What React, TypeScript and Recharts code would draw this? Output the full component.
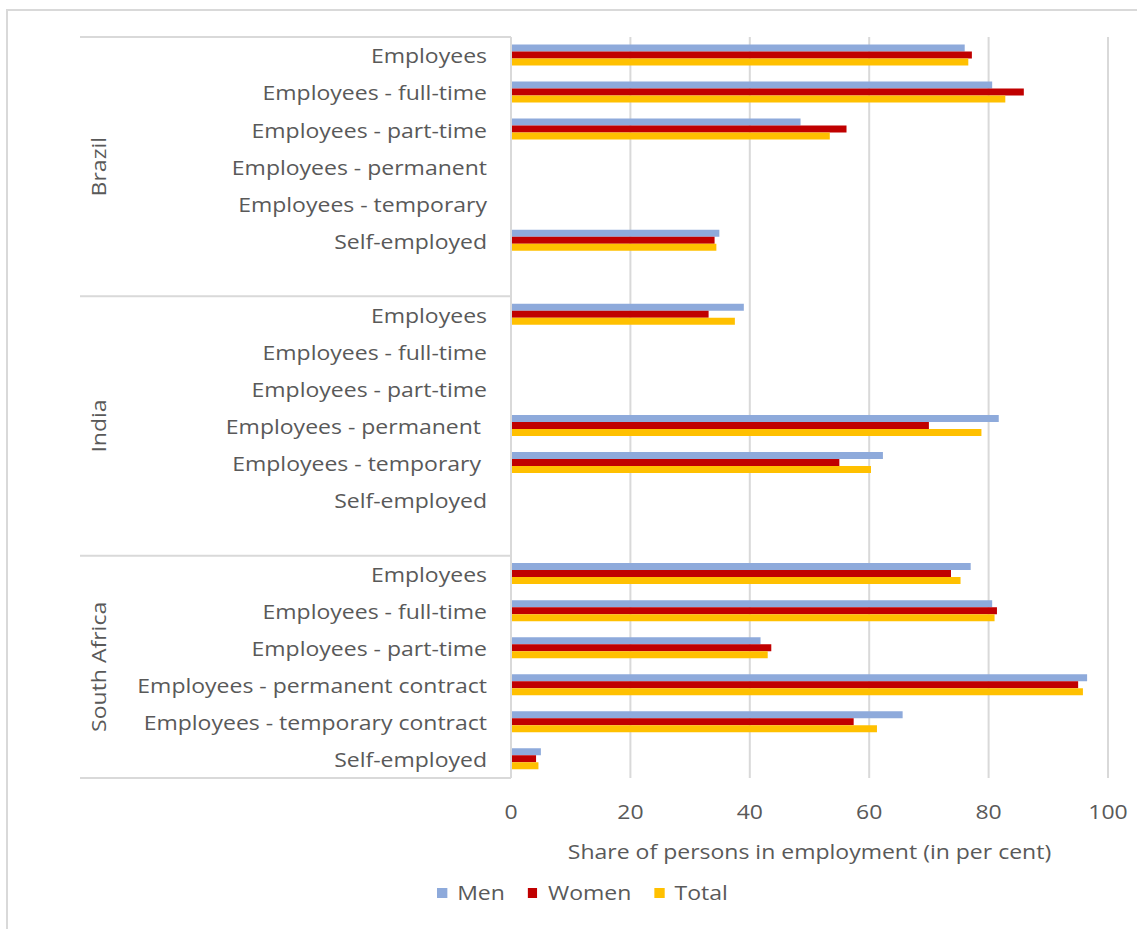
import React from 'react';
import { BarChart, Bar, XAxis, YAxis, CartesianGrid, Label } from 'recharts';

const countries = ['Brazil', 'India', 'South Africa'];

const brazilCats = ['Employees', 'Employees - full-time', 'Employees - part-time', 'Employees - permanent', 'Employees - temporary', 'Self-employed', ''];
const indiaCats = ['Employees', 'Employees - full-time', 'Employees - part-time', 'Employees - permanent ', 'Employees - temporary ', 'Self-employed', ''];
const southAfricaCats = ['Employees', 'Employees - full-time', 'Employees - part-time', 'Employees - permanent contract', 'Employees - temporary contract', 'Self-employed'];

const brazilMen = [76.0, 80.6, 48.5, null, null, 34.9, null];
const brazilWomen = [77.2, 85.9, 56.2, null, null, 34.1, null];
const brazilTotal = [76.6, 82.8, 53.4, null, null, 34.4, null];

const indiaMen = [39.0, null, null, 81.7, 62.3, null, null];
const indiaWomen = [33.1, null, null, 70.0, 55.0, null, null];
const indiaTotal = [37.5, null, null, 78.8, 60.3, null, null];

const saMen = [77.0, 80.6, 41.8, 96.5, 65.6, 5.0];
const saWomen = [73.7, 81.4, 43.6, 95.0, 57.4, 4.2];
const saTotal = [75.3, 81.0, 43.0, 95.8, 61.3, 4.6];

const xTicks = [0, 20, 40, 60, 80, 100];

const groups = [
  { country: countries[0], cats: brazilCats, men: brazilMen, women: brazilWomen, total: brazilTotal },
  { country: countries[1], cats: indiaCats, men: indiaMen, women: indiaWomen, total: indiaTotal },
  { country: countries[2], cats: southAfricaCats, men: saMen, women: saWomen, total: saTotal },
];

const rows: any[] = [];
groups.forEach(g =>
  g.cats.forEach((c, i) =>
    rows.push({ id: `${g.country}-${i}`, country: g.country, cat: c, size: g.cats.length, men: g.men[i], women: g.women[i], total: g.total[i] })
  )
);

const W = 1137;
const H = 929;
const PLOT_LEFT = 511;
const PLOT_TOP = 37;
const PLOT_RIGHT = 1108;
const PLOT_BOTTOM = 778;
const BAND = (PLOT_BOTTOM - PLOT_TOP) / rows.length;
const GRID = '#d9d9d9';
const TEXT = '#595959';
const FONT = '"Open Sans", "Noto Sans", sans-serif';
const STRETCH = 1.15; // the source text is drawn a bit wide

// text stretched along its own direction
function WideText({ x, y, anchor = 'middle', rotate = 0, children }: any) {
  return (
    <g transform={`translate(${x},${y}) rotate(${rotate}) scale(${STRETCH},1)`}>
      <text x={0} y={0} textAnchor={anchor} dominantBaseline="central"
        fontSize={20} fill={TEXT} fontFamily={FONT} style={{ whiteSpace: 'pre' }}>
        {children}
      </text>
    </g>
  );
}

function CategoryTick({ y, payload }: any) {
  const idx = rows.findIndex(r => r.id === payload.value);
  const row = rows[idx];
  const first = idx === 0 || rows[idx - 1].country !== row.country;
  const last = idx === rows.length - 1;
  const top = y - BAND / 2;
  return (
    <g>
      <WideText x={PLOT_LEFT - 24} y={y} anchor="end">{row.cat}</WideText>
      {first && (
        <>
          <line x1={80} x2={PLOT_LEFT} y1={top} y2={top} stroke={GRID} strokeWidth={2} />
          <WideText x={98} y={top + (row.size * BAND) / 2} rotate={-90}>{row.country}</WideText>
        </>
      )}
      {last && <line x1={80} x2={PLOT_LEFT} y1={y + BAND / 2} y2={y + BAND / 2} stroke={GRID} strokeWidth={2} />}
    </g>
  );
}

function ValueTick({ x, payload }: any) {
  return <WideText x={x} y={PLOT_BOTTOM + 33}>{payload.value}</WideText>;
}

function AxisTitle({ viewBox }: any) {
  return (
    <WideText x={viewBox.x + viewBox.width / 2} y={PLOT_BOTTOM + 73}>
      Share of persons in employment (in per cent)
    </WideText>
  );
}

const legendItems = [
  { name: 'Men', color: '#8EAADB' },
  { name: 'Women', color: '#C00000' },
  { name: 'Total', color: '#FFC000' },
];

export default function App() {
  return (
    <div style={{ position: 'absolute', left: 0, top: 0, width: W, height: H, background: '#fff', overflow: 'hidden', fontFamily: FONT }}>
      <div style={{ position: 'absolute', left: 6, top: 9, width: W, height: H, borderLeft: `2px solid ${GRID}`, borderTop: `2px solid ${GRID}` }} />
      <BarChart
        width={W}
        height={H}
        data={rows}
        layout="vertical"
        margin={{ top: PLOT_TOP, right: W - PLOT_RIGHT, bottom: 61, left: 0 }}
        barCategoryGap="20%"
        barGap={0}
      >
        <CartesianGrid horizontal={false} stroke={GRID} strokeWidth={2} />
        <XAxis
          type="number"
          domain={[0, 100]}
          ticks={xTicks}
          axisLine={false}
          tickLine={false}
          height={90}
          tick={<ValueTick />}
        >
          <Label content={<AxisTitle />} />
        </XAxis>
        <YAxis
          type="category"
          dataKey="id"
          width={PLOT_LEFT}
          axisLine={{ stroke: GRID, strokeWidth: 2 }}
          tickLine={false}
          interval={0}
          tick={<CategoryTick />}
        />
        <Bar dataKey="men" name="Men" fill="#8EAADB" isAnimationActive={false} />
        <Bar dataKey="women" name="Women" fill="#C00000" isAnimationActive={false} />
        <Bar dataKey="total" name="Total" fill="#FFC000" isAnimationActive={false} />
      </BarChart>
      <div style={{ position: 'absolute', left: 437, top: 879, display: 'flex', alignItems: 'center', fontSize: 20, color: TEXT, transform: `scaleX(${STRETCH})`, transformOrigin: 'left center' }}>
        {legendItems.map(item => (
          <div key={item.name} style={{ display: 'flex', alignItems: 'center', marginRight: 20 }}>
            <span style={{ display: 'inline-block', width: 8.5, height: 10, background: item.color, marginRight: 9 }} />
            <span>{item.name}</span>
          </div>
        ))}
      </div>
    </div>
  );
}
